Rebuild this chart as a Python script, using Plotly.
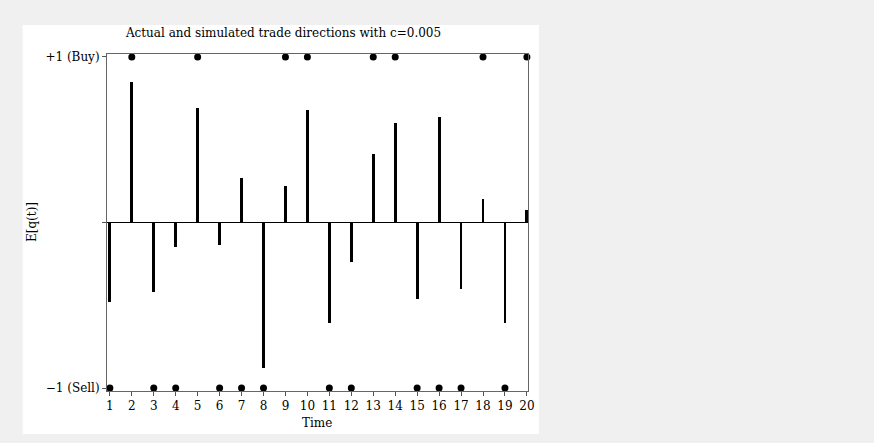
import plotly.graph_objects as go

# Data
time = list(range(1, 21))
simulated = [-0.479, 0.846, -0.419, -0.146, 0.693, -0.134, 0.271, -0.879, 0.223, 0.681,
             -0.606, -0.237, 0.415, 0.602, -0.461, 0.639, -0.401, 0.142, -0.606, 0.076]
actual = [-1, 1, -1, -1, 1, -1, -1, -1, 1, 1,
          -1, -1, 1, 1, -1, -1, -1, 1, -1, 1]
ytick_vals = [-1, 0, 1]
ytick_text = ["\u22121 (Sell)", "", "+1 (Buy)"]

W, H = 874, 443
L, R, T, B = 107, 346, 54, 52
pw, ph = W - L - R, H - T - B

def px_x(p):
    return (p - L) / pw

def px_y(p):
    return (H - B - p) / ph

font = dict(family="DejaVu Serif", size=12, color="black")

fig = go.Figure()
fig.add_trace(go.Bar(x=time, y=simulated, width=0.13, marker=dict(color="black", line=dict(width=0)),
                     showlegend=False))
fig.add_trace(go.Scatter(x=time, y=actual, mode="markers", marker=dict(color="black", size=7),
                         cliponaxis=False, showlegend=False))

fig.add_shape(type="rect", xref="paper", yref="paper",
              x0=px_x(22.7), x1=px_x(539), y0=px_y(434), y1=px_y(25),
              fillcolor="white", line=dict(width=0), layer="below")

fig.add_annotation(text="Time", xref="paper", yref="paper", x=px_x(317), y=px_y(423),
                   xanchor="center", yanchor="middle", showarrow=False, font=font)
fig.add_annotation(text="E[q(t)]", xref="paper", yref="paper", x=px_x(32), y=px_y(222),
                   xanchor="center", yanchor="middle", showarrow=False, textangle=-90, font=font)

fig.update_layout(
    width=W, height=H,
    margin=dict(l=L, r=R, t=T, b=B),
    paper_bgcolor="#f0f0f0", plot_bgcolor="white",
    font=font,
    title=dict(text="Actual and simulated trade directions with c=0.005",
               xref="container", x=283.5 / W, xanchor="center",
               yref="container", y=(H - 33) / H, yanchor="middle", font=font),
    bargap=0,
)
fig.update_xaxes(range=[0.87, 20.05], tickvals=time, ticks="outside", ticklen=4,
                 tickcolor="#555", showline=True, linecolor="#666", linewidth=1, mirror=True,
                 showgrid=False, zeroline=False, automargin=False, tickfont=font)
fig.update_yaxes(range=[-1.018, 1.018], tickvals=ytick_vals, ticktext=ytick_text,
                 ticks="outside", ticklen=4, tickcolor="#555",
                 showline=True, linecolor="#666", linewidth=1, mirror=True,
                 showgrid=False, zeroline=True, zerolinecolor="black", zerolinewidth=1,
                 automargin=False, tickfont=font)

fig.write_html("out.html", config={"displayModeBar": False},
               post_script="document.body.style.margin='0';document.body.style.background='#f0f0f0';")
